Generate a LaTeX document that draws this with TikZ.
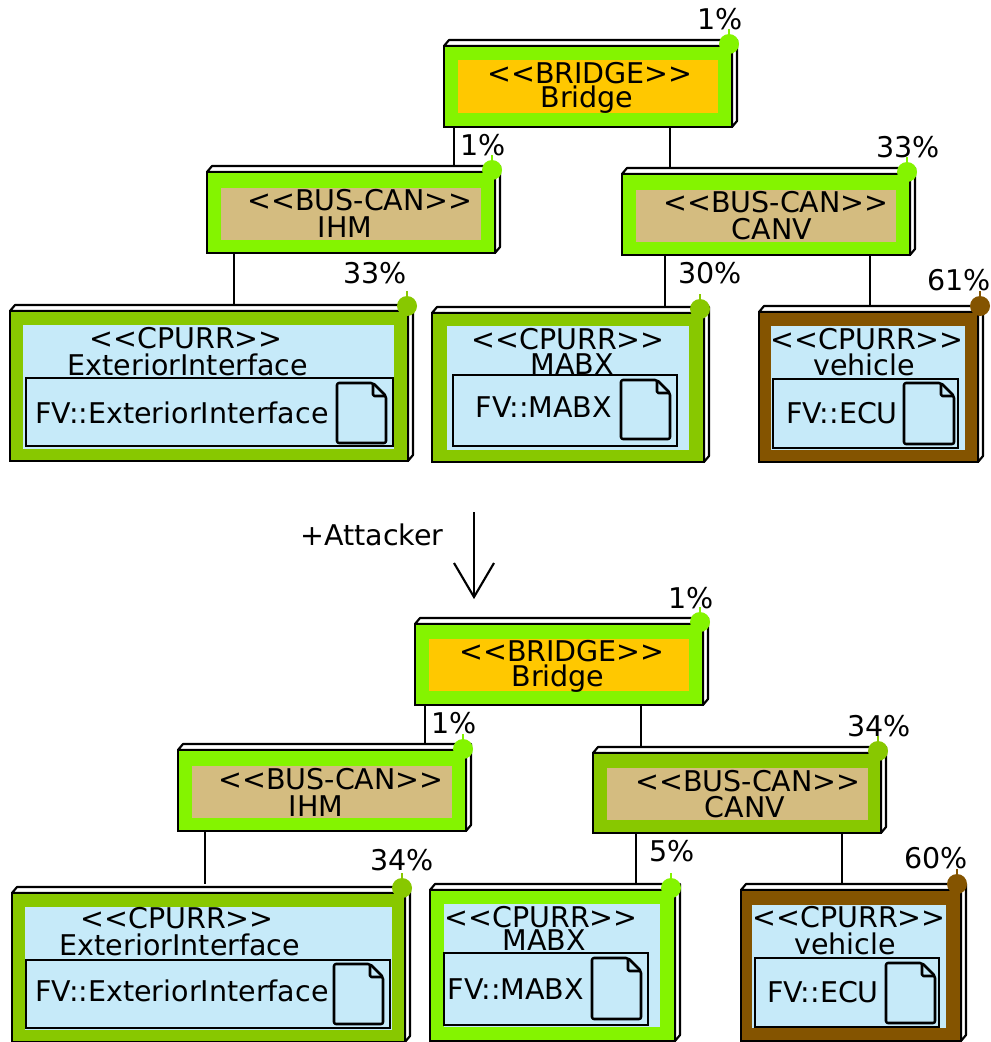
\documentclass[tikz,border=0pt]{standalone}
\usepackage{fontspec}
\setmainfont{DejaVu Sans}
\usetikzlibrary{arrows.meta}
\definecolor{lgreen}{HTML}{84F400}
\definecolor{dgreen}{HTML}{88C800}
\definecolor{brownc}{HTML}{845400}
\definecolor{orangec}{HTML}{FFC800}
\definecolor{tanc}{HTML}{D4BC80}
\definecolor{bluec}{HTML}{C6EAF9}
\tikzset{
  x=0.75pt,y=-0.75pt,
  ln/.style={draw=black,line width=1.6pt},
  conn/.style={draw=black,line width=1.6pt},
  lbl/.style={anchor=base,inner sep=0pt,outer sep=0pt,font=\fontsize{21.4pt}{24pt}\selectfont,text=black},
  boxnode/.style={rectangle,inner sep=0pt,outer sep=0pt,line width=1.4pt,draw=black},
  innernode/.style={rectangle,inner sep=0pt,outer sep=0pt},
  subnode/.style={rectangle,inner sep=0pt,outer sep=0pt,draw=black,line width=1.7pt},
  dot/.style={circle,inner sep=0pt,outer sep=0pt,minimum size=15pt},
}
% name x0 y0 x1 y1 colour
\newcommand{\rectnode}[7]{%
  \pgfmathsetmacro\rw{(#4-#2)*0.75}\pgfmathsetmacro\rh{(#5-#3)*0.75}%
  \pgfmathsetmacro\rcx{(#2+#4)/2}\pgfmathsetmacro\rcy{(#3+#5)/2}%
  \node[#7,fill=#6,minimum width=\rw pt,minimum height=\rh pt] (#1) at (\rcx,\rcy) {};}
\newcommand{\subrect}[5]{%
  \pgfmathsetmacro\rw{(#4-#2)*0.75}\pgfmathsetmacro\rh{(#5-#3)*0.75}%
  \pgfmathsetmacro\rcx{(#2+#4)/2}\pgfmathsetmacro\rcy{(#3+#5)/2}%
  \node[subnode,minimum width=\rw pt,minimum height=\rh pt] (#1) at (\rcx,\rcy) {};}
% name x0 y0 x1 y1 border
\newcommand{\device}[6]{%
  \draw[ln,fill=white,line join=round] (#2,#3) -- ({#2+5},{#3-6}) -- ({#4+5},{#3-6}) -- ({#4+5},{#5-6}) -- (#4,#5) -- (#4,#3) -- cycle;
  \draw[ln] (#2,#3) -- (#4,#3);
  \rectnode{#1}{#2}{#3}{#4}{#5}{#6}{boxnode}}
% name x y colour
\newcommand{\marker}[4]{%
  \draw[#4,line width=1.5pt] (#2,#3) -- (#2,{#3-15});
  \node[dot,fill=#4] (#1) at (#2,#3) {};}
% name cx cy text
\newcommand{\tlabel}[4]{\node[lbl] (#1) at (#2,{#3+10}) {#4};}
% x0 y0 x1 y1
\newcommand{\docicon}[4]{%
  \draw[black,line width=1.9pt,line join=round,rounded corners=1.5pt]
    (#1,#2) -- ({#3-13},#2) -- (#3,{#2+13}) -- (#3,#4) -- (#1,#4) -- cycle;
  \draw[black,line width=1.9pt,line join=round,rounded corners=1pt]
    ({#3-13},#2) -- ({#3-13},{#2+13}) -- (#3,{#2+13});}
\begin{document}
\begin{tikzpicture}
\useasboundingbox (0,0) rectangle (990,1042);
% ---------- top tree
\device{bridgeA}{444}{46}{732}{127}{lgreen}
\rectnode{bridgeAi}{458}{60}{718}{113}{orangec}{innernode}
\marker{bridgeAm}{729}{44}{lgreen}
\tlabel{bridgeAp}{720}{19}{1\%}
\tlabel{bridgeAs}{590}{73}{<{}<BRIDGE>{}>}
\tlabel{bridgeAn}{587}{97}{Bridge}

\device{ihmA}{207}{172}{495}{253}{lgreen}
\rectnode{ihmAi}{221}{188}{481}{240}{tanc}{innernode}
\marker{ihmAm}{492}{170}{lgreen}
\tlabel{ihmAp}{483}{145}{1\%}
\tlabel{ihmAs}{360}{200}{<{}<BUS-CAN>{}>}
\tlabel{ihmAn}{345}{227}{IHM}

\device{canvA}{622}{174}{910}{255}{lgreen}
\rectnode{canvAi}{636}{190}{896}{242}{tanc}{innernode}
\marker{canvAm}{907}{172}{lgreen}
\tlabel{canvAp}{908}{147}{33\%}
\tlabel{canvAs}{776}{202}{<{}<BUS-CAN>{}>}
\tlabel{canvAn}{772}{229}{CANV}

\device{extA}{10}{311}{408}{461}{dgreen}
\rectnode{extAi}{23}{325}{394}{449}{bluec}{innernode}
\marker{extAm}{407}{306}{dgreen}
\tlabel{extAp}{375}{273}{33\%}
\tlabel{extAs}{186}{338}{<{}<CPURR>{}>}
\tlabel{extAn}{188}{365}{ExteriorInterface}
\subrect{extAb}{26}{378}{393}{446}
\tlabel{extAf}{182}{413}{FV::ExteriorInterface}
\docicon{337}{383}{386}{443}

\device{mabxA}{432}{313}{704}{462}{dgreen}
\rectnode{mabxAi}{447}{326}{689}{450}{bluec}{innernode}
\marker{mabxAm}{700}{309}{dgreen}
\tlabel{mabxAp}{710}{273}{30\%}
\tlabel{mabxAs}{568}{339}{<{}<CPURR>{}>}
\tlabel{mabxAn}{572}{364}{MABX}
\subrect{mabxAb}{453}{375}{677}{446}
\tlabel{mabxAf}{544}{407}{FV::MABX}
\docicon{621}{380}{670}{439}

\device{vehA}{759}{312}{978}{462}{brownc}
\rectnode{vehAi}{771}{326}{965}{450}{bluec}{innernode}
\marker{vehAm}{980}{306}{brownc}
\tlabel{vehAp}{959}{280}{61\%}
\tlabel{vehAs}{867}{339}{<{}<CPURR>{}>}
\tlabel{vehAn}{864}{365}{vehicle}
\subrect{vehAb}{773}{379}{958}{448}
\tlabel{vehAf}{842}{413}{FV::ECU}
\docicon{904}{383}{954}{444}

\draw[conn] ([xshift=7.5pt]bridgeA.south west) -- ([xshift=185.25pt,yshift=4.5pt]ihmA.north west);
\draw[conn] ([xshift=169.5pt]bridgeA.south west) -- ([xshift=36pt,yshift=4.5pt]canvA.north west);
\draw[conn] ([xshift=20.25pt]ihmA.south west) -- ([xshift=168pt,yshift=4.5pt]extA.north west);
\draw[conn] ([xshift=32.25pt]canvA.south west) -- ([xshift=174.75pt,yshift=4.5pt]mabxA.north west);
\draw[conn] ([xshift=186pt]canvA.south west) -- ([xshift=83.25pt,yshift=4.5pt]vehA.north west);

% ---------- transition
\tlabel{attacker}{372}{535}{+Attacker}
\coordinate (arrS) at (474,512);
\coordinate (arrE) at (474,597);
\coordinate (arrL) at (454,563);
\coordinate (arrR) at (494,563);
\draw[conn] (arrS) -- (arrE);
\draw[conn,line join=miter] (arrL) -- (arrE) -- (arrR);

% ---------- bottom tree
\device{bridgeB}{415}{624}{703}{705}{lgreen}
\rectnode{bridgeBi}{429}{639}{689}{691}{orangec}{innernode}
\marker{bridgeBm}{700}{622}{lgreen}
\tlabel{bridgeBp}{691}{598}{1\%}
\tlabel{bridgeBs}{562}{651}{<{}<BRIDGE>{}>}
\tlabel{bridgeBn}{558}{676}{Bridge}

\device{ihmB}{178}{750}{466}{831}{lgreen}
\rectnode{ihmBi}{192}{766}{452}{818}{tanc}{innernode}
\marker{ihmBm}{463}{749}{lgreen}
\tlabel{ihmBp}{454}{723}{1\%}
\tlabel{ihmBs}{331}{779}{<{}<BUS-CAN>{}>}
\tlabel{ihmBn}{316}{806}{IHM}

\device{canvB}{593}{753}{881}{833}{dgreen}
\rectnode{canvBi}{607}{768}{868}{820}{tanc}{innernode}
\marker{canvBm}{878}{751}{dgreen}
\tlabel{canvBp}{879}{726}{34\%}
\tlabel{canvBs}{748}{781}{<{}<BUS-CAN>{}>}
\tlabel{canvBn}{745}{807}{CANV}

\device{extB}{12}{893}{405}{1042}{dgreen}
\rectnode{extBi}{25}{907}{392}{1030}{bluec}{innernode}
\marker{extBm}{402}{888}{dgreen}
\tlabel{extBp}{402}{860}{34\%}
\tlabel{extBs}{177}{918}{<{}<CPURR>{}>}
\tlabel{extBn}{180}{945}{ExteriorInterface}
\subrect{extBb}{26}{960}{390}{1028}
\tlabel{extBf}{182}{991}{FV::ExteriorInterface}
\docicon{334}{964}{383}{1024}

\device{mabxB}{430}{890}{675}{1041}{lgreen}
\rectnode{mabxBi}{444}{904}{660}{1027}{bluec}{innernode}
\marker{mabxBm}{671}{888}{lgreen}
\tlabel{mabxBp}{672}{851}{5\%}
\tlabel{mabxBs}{541}{917}{<{}<CPURR>{}>}
\tlabel{mabxBn}{544}{940}{MABX}
\subrect{mabxBb}{444}{953}{648}{1025}
\tlabel{mabxBf}{516}{989}{FV::MABX}
\docicon{592}{958}{641}{1019}

\device{vehB}{741}{890}{961}{1041}{brownc}
\rectnode{vehBi}{752}{905}{946}{1028}{bluec}{innernode}
\marker{vehBm}{957}{884}{brownc}
\tlabel{vehBp}{936}{858}{60\%}
\tlabel{vehBs}{849}{917}{<{}<CPURR>{}>}
\tlabel{vehBn}{845}{944}{vehicle}
\subrect{vehBb}{755}{958}{939}{1027}
\tlabel{vehBf}{823}{992}{FV::ECU}
\docicon{886}{963}{935}{1023}

\draw[conn] ([xshift=7.5pt]bridgeB.south west) -- ([xshift=185.25pt,yshift=4.5pt]ihmB.north west);
\draw[conn] ([xshift=169.5pt]bridgeB.south west) -- ([xshift=36pt,yshift=4.5pt]canvB.north west);
\draw[conn] ([xshift=20.25pt]ihmB.south west) -- ([xshift=144.75pt,yshift=6.75pt]extB.north west);
\draw[conn] ([xshift=32.25pt]canvB.south west) -- ([xshift=154.5pt,yshift=4.5pt]mabxB.north west);
\draw[conn] ([xshift=186.75pt]canvB.south west) -- ([xshift=75.75pt,yshift=4.5pt]vehB.north west);
\end{tikzpicture}
\end{document}
